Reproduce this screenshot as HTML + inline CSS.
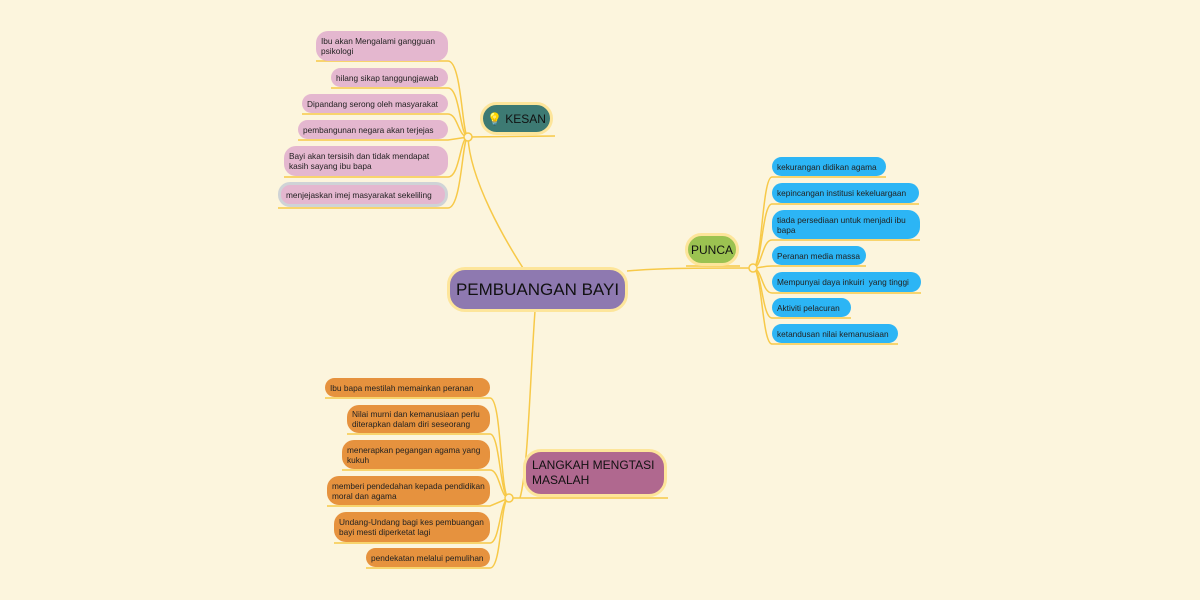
<!DOCTYPE html>
<html><head><meta charset="utf-8"><style>
body{margin:0;width:1200px;height:600px;background:#fcf5dd;position:relative;overflow:hidden;font-family:"Liberation Sans",sans-serif;}
.n{position:absolute;box-sizing:border-box;border-radius:12px;font-size:8.3px;line-height:10px;color:#222;padding:2px 5px;display:flex;align-items:center;}
.s{white-space:nowrap;}
.p{background:#e4b7cf;}
.b{background:#2cb5f5;}
.o{background:#e6923e;}
.m{position:absolute;box-sizing:border-box;border:3px solid #fde59a;border-radius:18px;display:flex;align-items:center;justify-content:center;color:#111;white-space:nowrap;}
svg{position:absolute;left:0;top:0}
</style></head><body>
<svg width="1200" height="600" fill="none" stroke="#f7c948" stroke-width="1.5">
<path d="M523 268 C505 240 470 180 468 137"/>
<path d="M468 137 L555 136"/>
<path d="M316 61 L448 61 C462 61 462 137 468 137"/>
<path d="M331 88 L448 88 C460 88 460 137 468 137"/>
<path d="M302 114 L448 114 C458 114 458 137 468 137"/>
<path d="M298 140 L448 140 L468 137"/>
<path d="M284 177 L448 177 C460 177 460 137 468 137"/>
<path d="M278 208 L448 208 C462 208 462 137 468 137"/>
<path d="M627 271 C660 268 700 268 753 268"/>
<path d="M686 266 L740 266"/>
<path d="M753 268 C762 268 762 177 772 177 L886 177"/>
<path d="M753 268 C762 268 762 204 772 204 L919 204"/>
<path d="M753 268 C762 268 762 240 772 240 L920 240"/>
<path d="M753 268 C762 268 762 266 772 266 L866 266"/>
<path d="M753 268 C762 268 762 293 772 293 L921 293"/>
<path d="M753 268 C762 268 762 318 772 318 L851 318"/>
<path d="M753 268 C762 268 762 344 772 344 L898 344"/>
<path d="M535 311 C530 380 528 470 520 498"/>
<path d="M509 498 L668 498"/>
<path d="M325 398 L490 398 C502 398 500 498 509 498"/>
<path d="M347 434 L490 434 C500 434 500 498 509 498"/>
<path d="M342 470 L490 470 C500 470 500 498 509 498"/>
<path d="M327 506 L490 506 L509 498"/>
<path d="M334 543 L490 543 C500 543 500 498 509 498"/>
<path d="M366 568 L490 568 C502 568 500 498 509 498"/>
<g fill="#fcf5dd"><circle cx="468" cy="137" r="4"/><circle cx="753" cy="268" r="4"/><circle cx="509" cy="498" r="4"/></g>
</svg>
<div class="m" style="left:447px;top:267px;width:181px;height:45px;background:#8e79b0;font-size:17px;">PEMBUANGAN BAYI</div>
<div class="m" style="left:480px;top:102px;width:73px;height:33px;background:#3d7a73;font-size:12px;">💡&nbsp;KESAN</div>
<div class="m" style="left:685px;top:233px;width:54px;height:33px;background:#9bc251;font-size:12px;">PUNCA</div>
<div class="m" style="left:523px;top:449px;width:144px;height:48px;background:#b0688f;font-size:12px;justify-content:flex-start;padding-left:6px;line-height:15px;">LANGKAH MENGTASI<br>MASALAH</div>

<div class="n p" style="left:316px;top:31px;width:132px;height:30px;">Ibu akan Mengalami gangguan<br>psikologi</div>
<div class="n p s" style="left:331px;top:68px;width:117px;height:19px;">hilang sikap tanggungjawab</div>
<div class="n p s" style="left:302px;top:94px;width:146px;height:19px;">Dipandang serong oleh masyarakat</div>
<div class="n p s" style="left:298px;top:120px;width:150px;height:19px;">pembangunan negara akan terjejas</div>
<div class="n p" style="left:284px;top:146px;width:164px;height:30px;">Bayi akan tersisih dan tidak mendapat<br>kasih sayang ibu bapa</div>
<div class="n p s" style="left:278px;top:182px;width:170px;height:25px;border:3px solid #cfd3d6;">menjejaskan imej masyarakat sekeliling</div>

<div class="n b s" style="left:772px;top:157px;width:114px;height:19px;">kekurangan didikan agama</div>
<div class="n b s" style="left:772px;top:183px;width:147px;height:20px;">kepincangan institusi kekeluargaan</div>
<div class="n b" style="left:772px;top:210px;width:148px;height:29px;">tiada persediaan untuk menjadi ibu<br>bapa</div>
<div class="n b s" style="left:772px;top:246px;width:94px;height:19px;">Peranan media massa</div>
<div class="n b s" style="left:772px;top:272px;width:149px;height:20px;">Mempunyai daya inkuiri &nbsp;yang tinggi</div>
<div class="n b s" style="left:772px;top:298px;width:79px;height:19px;">Aktiviti pelacuran</div>
<div class="n b s" style="left:772px;top:324px;width:126px;height:19px;">ketandusan nilai kemanusiaan</div>

<div class="n o s" style="left:325px;top:378px;width:165px;height:19px;">Ibu bapa mestilah memainkan peranan</div>
<div class="n o" style="left:347px;top:405px;width:143px;height:28px;">Nilai murni dan kemanusiaan perlu<br>diterapkan dalam diri seseorang</div>
<div class="n o" style="left:342px;top:440px;width:148px;height:29px;">menerapkan pegangan agama yang<br>kukuh</div>
<div class="n o" style="left:327px;top:476px;width:163px;height:29px;">memberi pendedahan kepada pendidikan<br>moral dan agama</div>
<div class="n o" style="left:334px;top:512px;width:156px;height:30px;">Undang-Undang bagi kes pembuangan<br>bayi mesti diperketat lagi</div>
<div class="n o s" style="left:366px;top:548px;width:124px;height:19px;">pendekatan melalui pemulihan</div>
</body></html>
